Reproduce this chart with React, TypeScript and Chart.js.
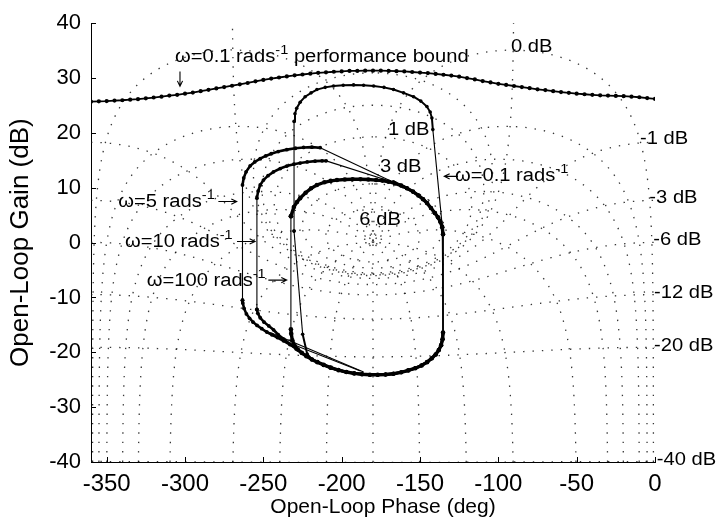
import React, { useEffect, useRef } from "react";
import { Chart, registerables } from "chart.js";

Chart.register(...registerables);

const FONT = "'Liberation Sans', Arial, Helvetica, sans-serif";

// Axis ticks
const phaseTicks = [-350, -300, -250, -200, -150, -100, -50, 0];
const gainTicks = [-40, -30, -20, -10, 0, 10, 20, 30, 40];

// Nichols grid: closed-loop magnitude (dB) and closed-loop phase (deg) contours
const closedLoopGainsDb = [6, 3, 1, 0.5, 0.25, 0, -1, -3, -6, -12, -20, -40];
const closedLoopPhasesDeg = [-1, -5, -10, -20, -30, -50, -90, -120, -150, -180];

// Performance bound at w = 0.1 rad/s
const boundPhase = [
  -360, -355, -350, -345, -340, -335, -330, -325, -320, -315, -310, -305, -300, -295, -290, -285,
  -280, -275, -270, -265, -260, -255, -250, -245, -240, -235, -230, -225, -220, -215, -210, -205,
  -200, -195, -190, -185, -180, -175, -170, -165, -160, -155, -150, -145, -140, -135, -130, -125,
  -120, -115, -110, -105, -100, -95, -90, -85, -80, -75, -70, -65, -60, -55, -50, -45, -40, -35,
  -30, -25, -20, -15, -10, -5, 0,
];
const boundGain = [
  25.7, 25.75, 25.8, 25.9, 25.95, 26.05, 26.15, 26.3, 26.45, 26.6, 26.8, 26.95, 27.15, 27.35, 27.6, 27.85,
  28.1, 28.35, 28.6, 28.85, 29.1, 29.4, 29.65, 29.9, 30.1, 30.3, 30.5, 30.65, 30.8, 30.95, 31.05, 31.15,
  31.2, 31.3, 31.3, 31.35, 31.35, 31.35, 31.3, 31.25, 31.2, 31.1, 31.0, 30.9, 30.75, 30.6, 30.45, 30.25,
  30.0, 29.75, 29.45, 29.2, 28.95, 28.75, 28.55, 28.35, 28.15, 27.95, 27.8, 27.6, 27.45, 27.3, 27.15, 27.05, 26.95, 26.85,
  26.8, 26.75, 26.7, 26.6, 26.5, 26.35, 26.2,
];

// Plant template, w = 0.1 rad/s
const w01Phase = [
  -230.4, -230.4, -229.8, -228.7, -226.5, -223.3, -219.5, -215.8, -210.5, -205.2, -199, -192.4, -186, -179.6,
  -173, -166.9, -160.5, -154.1, -149.5, -145.6, -143.5, -142.4, -141.8, -135.8, -135.3, -135.6, -136.5, -138,
  -140, -142.5, -145.5, -149, -153, -157.5, -162, -167, -172, -177, -182, -187, -192, -197, -202, -207,
  -211.5, -215.5, -219, -222, -224.9, -230.4,
];
const w01Gain = [
  2.1, 22.1, 23.5, 24.5, 25.6, 26.6, 27.3, 27.9, 28.3, 28.55, 28.7, 28.75, 28.7, 28.55,
  28.3, 27.9, 27.3, 26.6, 25.8, 24.8, 23.8, 22.7, 20.6, 3.0, -16.4, -17.6, -18.7, -19.6,
  -20.4, -21.1, -21.8, -22.4, -22.9, -23.3, -23.65, -23.9, -24.05, -24.1, -24.1, -24.0, -23.85, -23.6, -23.25, -22.8,
  -22.3, -21.8, -21.3, -20.3, -16.7, 2.1,
];

// Plant template, w = 5 rad/s
const w5Phase = [
  -263.3, -263.3, -262.5, -261, -258.4, -255.5, -252, -248.5, -245, -240.5, -235, -229.5, -224.3, -219, -213.7,
  -167, -162, -158.3, -154.5, -151, -148, -145.5, -143, -140.5, -138.5, -137, -135.8, -135.3, -135.3,
  -135.6, -136.5, -138, -140, -142.5, -145.5, -149, -153, -157.5, -162, -167, -172, -177, -182, -187, -192,
  -197, -202, -207, -211.5, -215.5, -219, -222.5, -225.5, -229, -233, -237.1, -241, -244.5, -247.8, -251, -254,
  -256.5, -258.8, -260.8, -262.3, -263.1, -263.3,
];
const w5Gain = [
  -10.5, 10.5, 11.8, 12.9, 14.0, 14.7, 15.3, 15.8, 16.2, 16.6, 16.95, 17.2, 17.35, 17.4, 17.3,
  11.0, 10.4, 9.9, 9.3, 8.6, 7.9, 7.2, 6.3, 5.4, 4.6, 3.8, 2.8, 1.5, -16.4,
  -17.6, -18.7, -19.6, -20.4, -21.1, -21.8, -22.4, -22.9, -23.3, -23.65, -23.9, -24.05, -24.1, -24.1, -24.0, -23.85,
  -23.6, -23.25, -22.8, -22.3, -21.8, -21.3, -20.7, -20.1, -19.3, -18.6, -17.9, -17.3, -16.8, -16.3, -15.7, -15.1,
  -14.5, -13.8, -13.0, -12.0, -11.0, -10.5,
];
const w5ChordPhase = [-245.6, -186];
const w5ChordGain = [-16.4, -23.6];

// Plant template, w = 10 rad/s
const w10Phase = [
  -254.1, -254.1, -253.3, -252, -249.9, -247, -243.5, -239.2, -235, -230.5, -226.5, -222, -217, -212.5, -209.9,
  -167, -162, -158.3, -154.5, -151, -148, -145.5, -143, -140.5, -138.5, -137, -135.8, -135.3, -135.3,
  -135.6, -136.5, -138, -140, -142.5, -145.5, -149, -153, -157.5, -162, -167, -172, -177, -182, -187, -192,
  -197, -202, -207, -211.5, -215.5, -219, -222.5, -225.5, -229, -233, -237, -240.5, -243.5, -246.5, -249.5,
  -252, -253.5, -254.1,
];
const w10Gain = [
  -12.2, 8.1, 9.4, 10.5, 11.4, 12.2, 12.9, 13.5, 13.95, 14.3, 14.5, 14.7, 14.85, 14.9, 14.9,
  11.0, 10.4, 9.9, 9.3, 8.6, 7.9, 7.2, 6.3, 5.4, 4.6, 3.8, 2.8, 1.5, -16.4,
  -17.6, -18.7, -19.6, -20.4, -21.1, -21.8, -22.4, -22.9, -23.3, -23.65, -23.9, -24.05, -24.1, -24.1, -24.0, -23.85,
  -23.6, -23.25, -22.8, -22.3, -21.8, -21.3, -20.7, -20.1, -19.4, -18.5, -17.6, -16.8, -15.9, -15.2, -14.5,
  -13.7, -12.9, -12.2,
];
const w10ChordPhase = [-231.8, -188];
const w10ChordGain = [-18.5, -23.4];

// Plant template, w = 100 rad/s
const w100Phase = [
  -232.4, -230.5, -228.5, -226.5, -223, -219.5, -215.8, -211, -207, -203, -198, -193, -188, -183, -178, -174,
  -170, -166, -162, -158.3, -154.5, -151, -148, -145.5, -143, -140.5, -138.5, -137, -135.8, -135.3, -135.3,
  -135.6, -136.5, -138, -140, -142.5, -145.5, -149, -153, -157.5, -162, -167, -172, -177, -182, -187, -192,
  -197, -202, -207, -211.5, -215.5, -219, -222.5, -225.5, -228, -230, -231.5, -232.2, -232.4, -232.4,
];
const w100Gain = [
  4.8, 6.5, 7.4, 8.1, 9.1, 9.9, 10.5, 11.0, 11.25, 11.4, 11.5, 11.55, 11.55, 11.5, 11.4, 11.3,
  11.1, 10.8, 10.4, 9.9, 9.3, 8.6, 7.9, 7.2, 6.3, 5.4, 4.6, 3.8, 2.8, 1.5, -16.4,
  -17.6, -18.7, -19.6, -20.4, -21.1, -21.8, -22.4, -22.9, -23.3, -23.65, -23.9, -24.05, -24.1, -24.1, -24.0, -23.85,
  -23.6, -23.25, -22.8, -22.3, -21.8, -21.3, -20.7, -20.1, -19.5, -18.8, -17.8, -16.6, -15.8, 4.8,
];

// Contour labels (text, anchor phase, anchor gain)
const gridLabels = [
  { text: "0 dB", phase: -91.9, gain: 34.8 },
  { text: "1 dB", phase: -170.4, gain: 19.55 },
  { text: "3 dB", phase: -175.5, gain: 12.8 },
  { text: "6 dB", phase: -188.7, gain: 3.2 },
  { text: "-1 dB", phase: -9.6, gain: 17.9 },
  { text: "-3 dB", phase: -3.6, gain: 7.3 },
  { text: "-6 dB", phase: -1.1, gain: -0.4 },
  { text: "-12 dB", phase: -0.6, gain: -10.1 },
  { text: "-20 dB", phase: -0.6, gain: -19.8 },
  { text: "-40 dB", phase: 1.1, gain: -40.5 },
];

const omegaLabels = [
  { text: "ω=0.1 rads", sup: "-1", after: " performance bound", phase: -306.4, gain: 32.97 },
  { text: "ω=0.1 rads", sup: "-1", after: "", phase: -127.7, gain: 11.28 },
  { text: "ω=5 rads", sup: "-1", after: "", phase: -342.6, gain: 6.53 },
  { text: "ω=10 rads", sup: "-1", after: "", phase: -338.3, gain: -0.86 },
  { text: "ω=100 rads", sup: "-1", after: "", phase: -324.4, gain: -7.91 },
];

const arrows = [
  { from: [-303.2, 31.2], to: [-303.2, 28.5] },
  { from: [-125.8, 12.08], to: [-134.5, 12.08] },
  { from: [-278.7, 7.48], to: [-267, 7.48] },
  { from: [-266.8, 0.21], to: [-255.3, 0.21] },
  { from: [-246.8, -6.84], to: [-235.1, -6.84] },
];

type Pt = { x: number; y: number };

const zip = (ph: number[], g: number[]): Pt[] => ph.map((p, i) => ({ x: p, y: g[i] }));

function openLoopPoint(tr: number, ti: number): Pt {
  // L = T / (1 - T)
  const dr = 1 - tr;
  const di = -ti;
  const den = dr * dr + di * di;
  const lr = (tr * dr + ti * di) / den;
  const li = (ti * dr - tr * di) / den;
  let ph = (Math.atan2(li, lr) * 180) / Math.PI;
  if (ph > 0) ph -= 360;
  return { x: ph, y: 10 * Math.log10(lr * lr + li * li) };
}

function magnitudeContour(db: number): Pt[] {
  const m = Math.pow(10, db / 20);
  const n = 3000;
  const pts: Pt[] = [];
  if (m < 1) {
    const g0 = 20 * Math.log10(m / (1 - m));
    pts.push({ x: -360, y: g0 });
    for (let i = 1; i < n; i++) {
      const th = (i / n) * 2 * Math.PI;
      pts.push(openLoopPoint(m * Math.cos(th), m * Math.sin(th)));
    }
    pts.push({ x: 0, y: g0 });
  } else if (m === 1) {
    for (let i = 1; i < n; i++) {
      const th = (i / n) * 2 * Math.PI;
      const p = openLoopPoint(Math.cos(th), Math.sin(th));
      if (p.y < 50) pts.push(p);
    }
  } else {
    for (let i = 0; i <= n; i++) {
      const th = (i / n) * 2 * Math.PI;
      pts.push(openLoopPoint(m * Math.cos(th), m * Math.sin(th)));
    }
  }
  return pts;
}

function phaseContour(deg: number, mirror: boolean): Pt[] {
  const a = (deg * Math.PI) / 180;
  const pts: Pt[] = [];
  for (let k = 0; k <= 3000; k++) {
    const m = Math.pow(10, -2.6 + k * 0.002);
    const p = openLoopPoint(m * Math.cos(a), m * Math.sin(a));
    if (mirror) p.x = -360 - p.x;
    pts.push(p);
  }
  return pts;
}

const gridStyle = {
  showLine: true,
  pointRadius: 0,
  borderColor: "rgba(20,20,20,0.85)",
  borderWidth: 1.3,
  borderDash: [1.4, 8],
  order: 10,
};

function gridDatasets() {
  const sets: any[] = [];
  closedLoopGainsDb.forEach((db) => sets.push({ ...gridStyle, data: magnitudeContour(db) }));
  closedLoopPhasesDeg.forEach((deg) => {
    sets.push({ ...gridStyle, data: phaseContour(deg, false) });
    if (deg !== -180) sets.push({ ...gridStyle, data: phaseContour(deg, true) });
  });
  return sets;
}

// Curved runs (short segments) are drawn heavy, long straight edges thin.
function curve(data: Pt[], thick: number, radius: number, thin = 1.1) {
  return {
    showLine: true,
    data,
    borderColor: "#000",
    borderWidth: thick,
    segment: {
      borderWidth: (c: any) => {
        const dx = c.p1.x - c.p0.x;
        const dy = c.p1.y - c.p0.y;
        return Math.hypot(dx, dy) > 24 ? thin : thick;
      },
    },
    pointRadius: radius,
    pointBackgroundColor: "#000",
    pointBorderWidth: 0,
    order: 1,
  };
}

function drawText(ctx: CanvasRenderingContext2D, text: string, x: number, y: number, size: number, sx = 1.12) {
  ctx.save();
  ctx.font = `${size}px ${FONT}`;
  ctx.textBaseline = "alphabetic";
  ctx.textAlign = "left";
  ctx.translate(x, y);
  ctx.scale(sx, 1);
  ctx.fillText(text, 0, 0);
  const w = ctx.measureText(text).width * sx;
  ctx.restore();
  return w;
}

function drawArrow(ctx: CanvasRenderingContext2D, x1: number, y1: number, x2: number, y2: number) {
  const ang = Math.atan2(y2 - y1, x2 - x1);
  const h = 6;
  ctx.beginPath();
  ctx.moveTo(x1, y1);
  ctx.lineTo(x2, y2);
  ctx.moveTo(x2 - h * Math.cos(ang - 0.45), y2 - h * Math.sin(ang - 0.45));
  ctx.lineTo(x2, y2);
  ctx.lineTo(x2 - h * Math.cos(ang + 0.45), y2 - h * Math.sin(ang + 0.45));
  ctx.stroke();
}

const decorPlugin = {
  id: "nicholsDecor",
  afterDatasetsDraw(chart: any) {
    const { ctx, chartArea: a, scales } = chart;
    const xs = scales.x;
    const ys = scales.y;
    ctx.save();
    ctx.strokeStyle = "#000";
    ctx.fillStyle = "#000";
    ctx.lineWidth = 1;

    // inward tick marks
    ctx.beginPath();
    phaseTicks.forEach((v) => {
      const px = Math.round(xs.getPixelForValue(v)) + 0.5;
      ctx.moveTo(px, a.bottom);
      ctx.lineTo(px, a.bottom - 5);
    });
    gainTicks.forEach((v) => {
      const py = Math.round(ys.getPixelForValue(v)) + 0.5;
      ctx.moveTo(a.left, py);
      ctx.lineTo(a.left + 5, py);
    });
    ctx.stroke();

    // contour labels
    gridLabels.forEach((l) => {
      drawText(ctx, l.text, xs.getPixelForValue(l.phase), ys.getPixelForValue(l.gain), 18);
    });

    // frequency labels
    omegaLabels.forEach((l) => {
      const x0 = xs.getPixelForValue(l.phase);
      const y0 = ys.getPixelForValue(l.gain);
      let w = drawText(ctx, l.text, x0, y0, 18);
      w += drawText(ctx, l.sup, x0 + w, y0 - 8, 13);
      if (l.after) drawText(ctx, l.after, x0 + w, y0, 18);
    });

    // arrows
    ctx.lineWidth = 1.1;
    arrows.forEach((ar) => {
      drawArrow(
        ctx,
        xs.getPixelForValue(ar.from[0]),
        ys.getPixelForValue(ar.from[1]),
        xs.getPixelForValue(ar.to[0]),
        ys.getPixelForValue(ar.to[1])
      );
    });

    // axis titles
    ctx.save();
    ctx.font = `21px ${FONT}`;
    ctx.textAlign = "center";
    ctx.textBaseline = "alphabetic";
    ctx.fillText("Open-Loop Phase (deg)", (a.left + a.right) / 2 + 10, 513);
    ctx.restore();

    ctx.save();
    ctx.font = `26px ${FONT}`;
    ctx.textAlign = "center";
    ctx.textBaseline = "alphabetic";
    ctx.translate(28, (a.top + a.bottom) / 2);
    ctx.rotate(-Math.PI / 2);
    ctx.fillText("Open-Loop Gain (dB)", 0, 0);
    ctx.restore();

    ctx.restore();
  },
};

export default function App() {
  const canvasRef = useRef<HTMLCanvasElement | null>(null);

  useEffect(() => {
    if (!canvasRef.current) return;
    Chart.defaults.font.family = FONT;
    Chart.defaults.color = "#000";

    const chart = new Chart(canvasRef.current, {
      type: "scatter",
      data: {
        datasets: [
          ...gridDatasets(),
          curve(zip(boundPhase, boundGain), 1.8, 2.1),
          curve(zip(w01Phase, w01Gain), 2, 1.8),
          curve(zip(w5Phase, w5Gain), 2.6, 1.9),
          curve(zip(w5ChordPhase, w5ChordGain), 1.1, 0),
          curve(zip(w10Phase, w10Gain), 2.6, 1.9),
          curve(zip(w10ChordPhase, w10ChordGain), 1.1, 0),
          curve(zip(w100Phase, w100Gain), 3.4, 2.3),
        ] as any,
      },
      options: {
        animation: false,
        responsive: false,
        maintainAspectRatio: false,
        events: [],
        layout: { padding: { left: 0, right: 67, top: 15, bottom: 0 } },
        plugins: { legend: { display: false }, tooltip: { enabled: false } },
        scales: {
          x: {
            type: "linear",
            min: -360,
            max: 0,
            afterBuildTicks: (s: any) => {
              s.ticks = phaseTicks.map((v) => ({ value: v }));
            },
            afterFit: (s: any) => {
              s.height = 59;
            },
            grid: { display: false, drawTicks: false },
            border: { display: true, color: "#000", width: 1 },
            ticks: { font: { size: 24 }, color: "#000", padding: 8, maxRotation: 0, autoSkip: false },
          },
          y: {
            type: "linear",
            min: -40,
            max: 40,
            afterBuildTicks: (s: any) => {
              s.ticks = gainTicks.map((v) => ({ value: v }));
            },
            afterFit: (s: any) => {
              s.width = 91;
            },
            grid: { display: false, drawTicks: false },
            border: { display: true, color: "#000", width: 1 },
            ticks: { font: { size: 22 }, color: "#000", padding: 10, autoSkip: false },
          },
        },
      } as any,
      plugins: [decorPlugin],
    });
    return () => chart.destroy();
  }, []);

  return (
    <div style={{ position: "absolute", left: 0, top: 0, width: 722, height: 521, background: "#fff" }}>
      <canvas ref={canvasRef} width={722} height={521} style={{ display: "block" }} />
    </div>
  );
}
